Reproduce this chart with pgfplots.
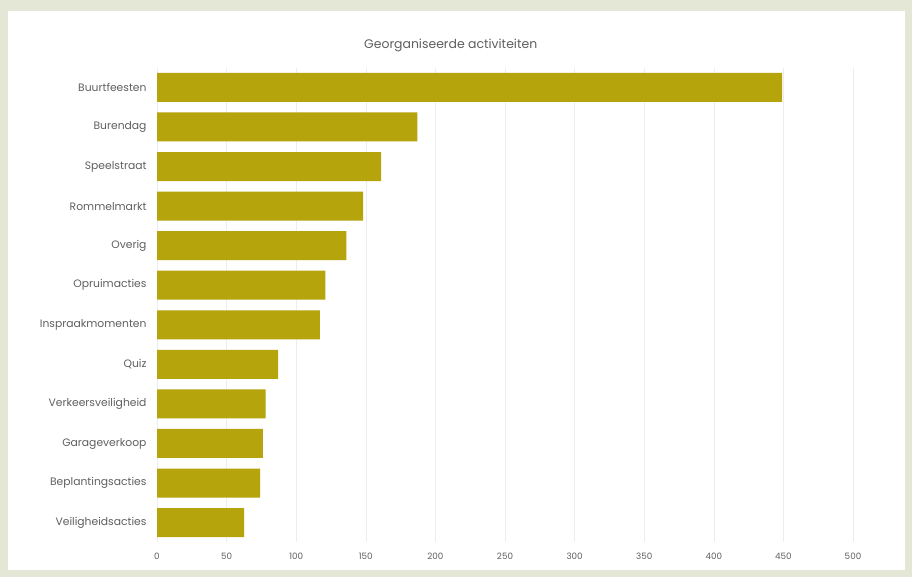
\documentclass[border=0pt]{standalone}
\usepackage{pgfplots}
\pgfplotsset{compat=1.18}
\usepackage{fontspec}
\setmainfont{Poppins}
\definecolor{bargold}{RGB}{181,164,12}
\definecolor{bgpanel}{RGB}{228,230,214}
\definecolor{labgrey}{RGB}{95,95,95}
\begin{document}
\begin{tikzpicture}
\fill[bgpanel] (0,0) rectangle (912bp,577bp);
\fill[white] (8bp,7bp) rectangle (905bp,566bp);
\begin{axis}[
  at={(157bp,35bp)}, anchor=south west,
  scale only axis,
  width=696bp, height=474bp,
  xbar, bar width=29bp,
  xmin=0, xmax=500,
  ymin=-0.49, ymax=11.49,
  xtick={0,50,...,500},
  ytick={0,...,11},
  yticklabels={Veiligheidsacties,Beplantingsacties,Garageverkoop,Verkeersveiligheid,Quiz,Inspraakmomenten,Opruimacties,Overig,Rommelmarkt,Speelstraat,Burendag,Buurtfeesten},
  axis line style={draw=none},
  major tick length=0pt,
  xmajorgrids, grid style={draw=black!7, line width=0.6pt},
  tick label style={text=labgrey},
  yticklabel style={font=\fontsize{10.8}{12}\selectfont, xshift=-7bp},
  xticklabel style={font=\fontsize{8.8}{10}\selectfont, yshift=-8bp},
  /pgf/number format/assume math mode=true,
  title={Georganiseerde activiteiten},
  title style={at={(axis description cs:0.422,1)}, anchor=south, yshift=7bp, text=labgrey, font=\fontsize{12.5}{14}\selectfont},
]
\addplot[fill=bargold, draw=none] coordinates {
  (62.5,0) (74,1) (76,2) (78,3) (87,4) (117,5) (121,6) (136,7) (148,8) (161,9) (187,10) (449,11)
};
\end{axis}
\end{tikzpicture}
\end{document}
